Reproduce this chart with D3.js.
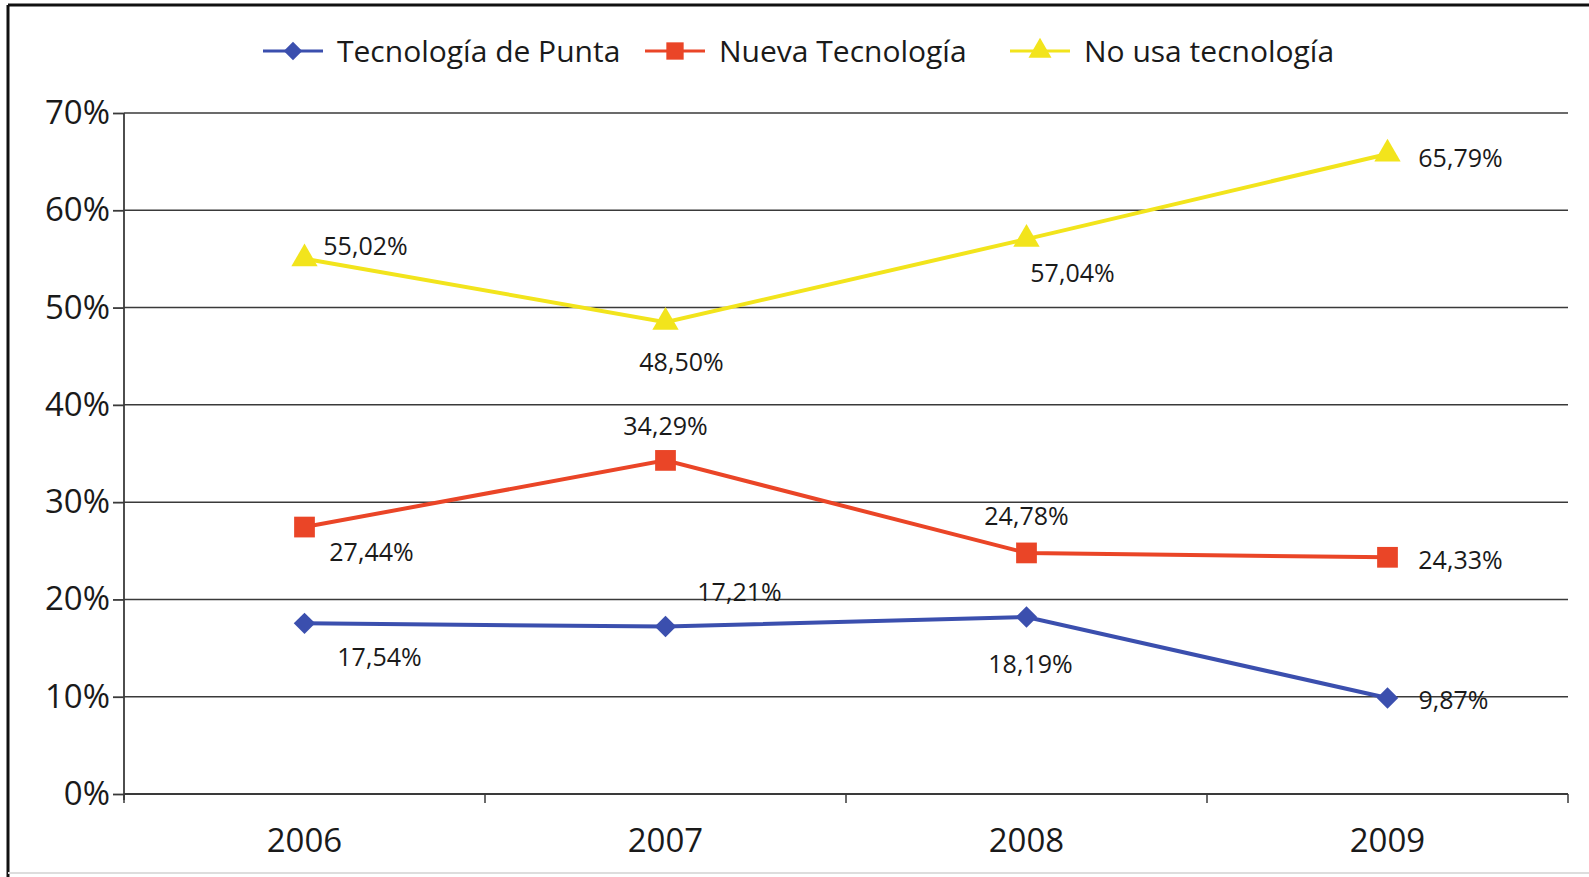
<!DOCTYPE html>
<html>
<head>
<meta charset="utf-8">
<script src="https://cdn.jsdelivr.net/npm/d3@7"></script>
<style>
  body { margin: 0; background: #fff; }
  svg text { font-family: "Open Sans", sans-serif; fill: #1a1a1a; }
</style>
</head>
<body>
<svg id="chart" width="1589" height="877"></svg>
<script>
var years = ["2006", "2007", "2008", "2009"];
var seriesNames = ["Tecnología de Punta", "Nueva Tecnología", "No usa tecnología"];
var punta = [17.54, 17.21, 18.19, 9.87];
var nueva = [27.44, 34.29, 24.78, 24.33];
var noUsa = [55.02, 48.50, 57.04, 65.79];
var yTicks = [0, 10, 20, 30, 40, 50, 60, 70];

// label placement relative to marker (dx, dy)
var labelOffsets = [
  [[75, 34], [74, -34], [4, 47], [66, 2]],
  [[67, 25], [0, -34], [0, -37], [73, 3]],
  [[61, -12], [16, 40], [46, 34], [73, 4]]
];
var colors = ["#3b4fae", "#ea4527", "#f2e41c"];
var symbols = [d3.symbolSquare, d3.symbolSquare, d3.symbolTriangle];
var rotations = [45, 0, 0];
var markSizes = [230, 430, 300];
var legendSizes = [170, 300, 230];

var svg = d3.select('#chart');
var plotLeft = 124, plotRight = 1568, plotTop = 113, plotBottom = 794;

// frame
svg.append('line').attr('x1', 8).attr('x2', 1589).attr('y1', 5).attr('y2', 5)
  .attr('stroke', '#111').attr('stroke-width', 3);
svg.append('line').attr('x1', 8).attr('x2', 8).attr('y1', 5).attr('y2', 877)
  .attr('stroke', '#111').attr('stroke-width', 3);
svg.append('line').attr('x1', 8).attr('x2', 1589).attr('y1', 873).attr('y2', 873)
  .attr('stroke', '#ddd').attr('stroke-width', 2);

var x = d3.scaleBand().domain(years).range([plotLeft, plotRight]);
var y = d3.scaleLinear().domain([0, 70]).range([plotBottom, plotTop]);

// gridlines
svg.selectAll('.grid')
  .data(yTicks.slice(1))
  .enter()
  .append('line')
  .attr('class', 'grid')
  .attr('x1', plotLeft).attr('x2', plotRight)
  .attr('y1', function(d) {return y(d);})
  .attr('y2', function(d) {return y(d);})
  .attr('stroke', '#3a3a3a')
  .attr('stroke-width', 1.5);

// y axis
var yAxis = svg.append('g')
  .attr('transform', 'translate(' + plotLeft + ',0)')
  .call(d3.axisLeft(y).tickValues(yTicks).tickSize(11).tickPadding(3)
    .tickFormat(function(d) {return d + '%';}));
yAxis.selectAll('line, path').attr('stroke', '#3a3a3a').attr('stroke-width', 1.8);
yAxis.select('.domain').attr('d', 'M0,' + plotTop + 'V' + (plotBottom + 6));
yAxis.selectAll('text').attr('font-size', 33).attr('fill', '#1a1a1a')
  .attr('font-family', '"Open Sans", sans-serif');

// x axis
var xAxis = svg.append('g')
  .attr('transform', 'translate(0,' + plotBottom + ')');
xAxis.append('line').attr('x1', plotLeft).attr('x2', plotRight)
  .attr('stroke', '#3a3a3a').attr('stroke-width', 1.8);
xAxis.selectAll('.xtick')
  .data(x.domain().map(function(d) {return x(d);}).concat([plotRight]))
  .enter()
  .append('line')
  .attr('x1', function(d) {return d;})
  .attr('x2', function(d) {return d;})
  .attr('y1', 0).attr('y2', 9)
  .attr('stroke', '#3a3a3a').attr('stroke-width', 1.5);
xAxis.selectAll('.xlabel')
  .data(years)
  .enter()
  .append('text')
  .attr('x', function(d) {return x(d) + x.bandwidth() / 2;})
  .attr('y', 58)
  .attr('text-anchor', 'middle')
  .attr('font-size', 33)
  .text(function(d) {return d;});

var allSeries = [punta, nueva, noUsa];
var line = d3.line()
  .x(function(d, i) {return x(years[i]) + x.bandwidth() / 2;})
  .y(function(d) {return y(d);});

var fmt = function(v) {return v.toFixed(2).replace('.', ',') + '%';};

// draw yellow first so blue/red sit on top
[2, 1, 0].forEach(function(s) {
  var vals = allSeries[s];
  svg.append('path')
    .datum(vals)
    .attr('d', line)
    .attr('fill', 'none')
    .attr('stroke', colors[s])
    .attr('stroke-width', 4);
  svg.selectAll('.mark-' + s)
    .data(vals)
    .enter()
    .append('path')
    .attr('class', 'mark-' + s)
    .attr('d', d3.symbol().type(symbols[s]).size(markSizes[s]))
    .attr('transform', function(d, i) {
      return 'translate(' + (x(years[i]) + x.bandwidth() / 2) + ',' + y(d) + ') rotate(' + rotations[s] + ')';
    })
    .attr('fill', colors[s]);
});

[0, 1, 2].forEach(function(s) {
  svg.selectAll('.lab-' + s)
    .data(allSeries[s])
    .enter()
    .append('text')
    .attr('class', 'lab-' + s)
    .attr('x', function(d, i) {return x(years[i]) + x.bandwidth() / 2 + labelOffsets[s][i][0];})
    .attr('y', function(d, i) {return y(d) + labelOffsets[s][i][1];})
    .attr('dy', '0.35em')
    .attr('text-anchor', 'middle')
    .attr('font-size', 25)
    .text(fmt);
});

// legend
var legendX = [263, 645, 1010];
var legend = svg.selectAll('.legend')
  .data(seriesNames)
  .enter()
  .append('g')
  .attr('class', 'legend')
  .attr('transform', function(d, i) {return 'translate(' + legendX[i] + ',51)';});
legend.append('line')
  .attr('x1', 0).attr('x2', 60)
  .attr('stroke', function(d, i) {return colors[i];})
  .attr('stroke-width', 3);
legend.append('path')
  .attr('d', function(d, i) {return d3.symbol().type(symbols[i]).size(legendSizes[i])();})
  .attr('transform', function(d, i) {return 'translate(30,0) rotate(' + rotations[i] + ')';})
  .attr('fill', function(d, i) {return colors[i];});
legend.append('text')
  .attr('x', 74)
  .attr('dy', '0.35em')
  .attr('font-size', 30)
  .text(function(d) {return d;});
</script>
</body>
</html>
